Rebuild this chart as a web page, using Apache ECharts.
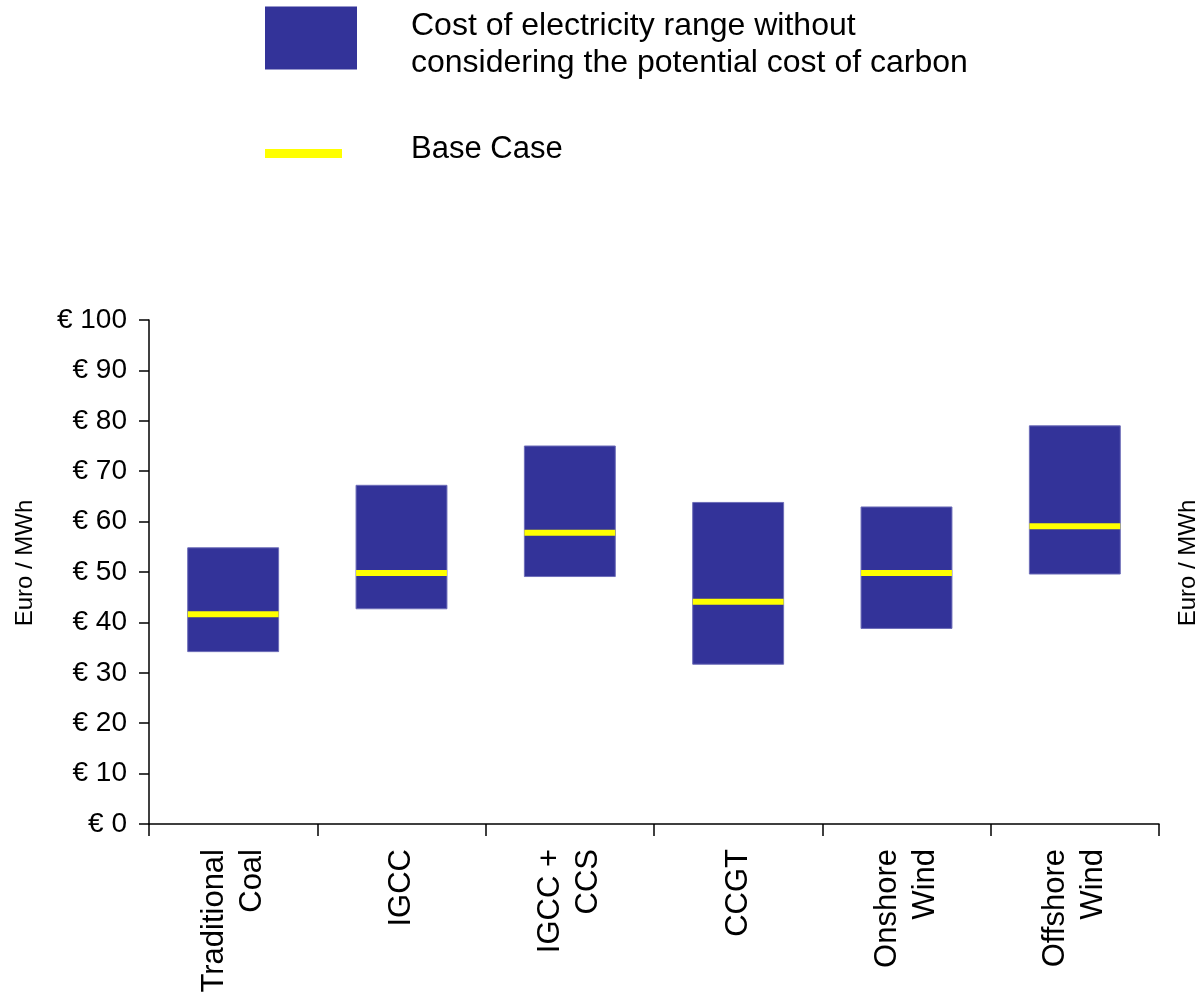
<!DOCTYPE html>
<html>
<head>
<meta charset="utf-8">
<title>Cost of electricity by technology</title>
<script src="https://cdn.jsdelivr.net/npm/echarts@6/dist/echarts.min.js"></script>
<style>
  html, body { margin: 0; padding: 0; background: #ffffff; }
  #chart { width: 1201px; height: 998px; }
</style>
</head>
<body>
<div id="chart"></div>
<script>
// Technologies along the x axis
const categories = ['Traditional\nCoal', 'IGCC', 'IGCC +\nCCS', 'CCGT', 'Onshore\nWind', 'Offshore\nWind'];
// Cost range, euro per MWh
const rangeLow  = [34.2, 42.7, 49.1, 31.7, 38.8, 49.6];
const rangeHigh = [54.8, 67.2, 75.0, 63.8, 62.9, 79.0];
// Base case cost, euro per MWh
const baseCase  = [41.6, 49.8, 57.8, 44.1, 49.8, 59.1];
// Value axis ticks
const yTicks = { min: 0, max: 100, step: 10 };

const RANGE_NAME = 'Cost of electricity range without considering the potential cost of carbon';
const BASE_NAME = 'Base Case';
const FONT = "'Liberation Sans', Arial, sans-serif";
const BLUE = '#333399';
const YELLOW = '#ffff00';
const BOX_FRACTION = 0.54;

const rangeData = categories.map((c, i) => [i, rangeLow[i], rangeHigh[i]]);
const baseData = categories.map((c, i) => [i, baseCase[i]]);

const chart = echarts.init(document.getElementById('chart'), null, { renderer: 'canvas' });

chart.setOption({
  backgroundColor: '#ffffff',
  animation: false,
  textStyle: { fontFamily: FONT, color: '#000' },
  legend: [
    {
      data: [{ name: RANGE_NAME, icon: 'rect', itemStyle: { color: BLUE } }],
      left: 265, top: -3,
      padding: 0,
      itemWidth: 92, itemHeight: 63,
      selectedMode: false,
      // a short spacer row drops the two text rows a little below the swatch centre
      formatter: () => '{s| }\n{t|Cost of electricity range without}\n{t|considering the potential cost of carbon}',
      textStyle: {
        fontFamily: FONT, fontSize: 32, color: '#000', padding: [0, 0, 0, 49],
        rich: {
          s: { fontSize: 8, lineHeight: 14 },
          t: { fontFamily: FONT, fontSize: 32, lineHeight: 37, color: '#000' }
        }
      }
    },
    {
      data: [{ name: BASE_NAME, icon: 'rect', itemStyle: { color: YELLOW } }],
      left: 265, top: 134,
      padding: 0,
      itemWidth: 77, itemHeight: 9,
      selectedMode: false,
      formatter: name => '{t|' + name + '}\n{s| }',
      textStyle: {
        fontFamily: FONT, fontSize: 31, color: '#000', padding: [0, 0, 0, 64],
        rich: {
          s: { fontSize: 6, lineHeight: 8 },
          t: { fontFamily: FONT, fontSize: 31, lineHeight: 37, color: '#000' }
        }
      }
    }
  ],
  grid: { left: 149, right: 42, top: 320, bottom: 174, containLabel: false, outerBoundsMode: 'none' },
  xAxis: {
    type: 'category',
    data: categories,
    boundaryGap: true,
    axisLine: { lineStyle: { color: '#000', width: 1.5 } },
    axisTick: { show: true, length: 12, lineStyle: { color: '#000', width: 1.5 } },
    axisLabel: {
      interval: 0, rotate: 90, margin: 25,
      fontFamily: FONT, fontSize: 31, lineHeight: 38, color: '#000'
    },
    splitLine: { show: false }
  },
  yAxis: [
    {
      type: 'value',
      min: yTicks.min, max: yTicks.max, interval: yTicks.step,
      name: 'Euro / MWh',
      nameLocation: 'middle',
      nameRotate: 90,
      nameGap: 112,
      nameTextStyle: { fontFamily: FONT, fontSize: 24, color: '#000', padding: [0, 0, 0, 18] },
      axisLine: { show: true, lineStyle: { color: '#000', width: 1.5 } },
      axisTick: { show: true, length: 10, lineStyle: { color: '#000', width: 1.5 } },
      axisLabel: {
        margin: 22, fontFamily: FONT, fontSize: 28, color: '#000',
        formatter: v => '€ ' + v
      },
      splitLine: { show: false }
    },
    {
      type: 'value',
      position: 'right',
      min: yTicks.min, max: yTicks.max, interval: yTicks.step,
      name: 'Euro / MWh',
      nameLocation: 'middle',
      nameRotate: 90,
      nameGap: 17,
      nameTextStyle: { fontFamily: FONT, fontSize: 24, color: '#000', padding: [0, 0, 0, 18] },
      axisLine: { show: false },
      axisTick: { show: false },
      axisLabel: { show: false },
      splitLine: { show: false }
    }
  ],
  series: [
    {
      name: RANGE_NAME,
      type: 'custom',
      itemStyle: { color: BLUE },
      data: rangeData,
      encode: { x: 0, y: [1, 2] },
      renderItem: (params, api) => {
        const i = api.value(0);
        const lo = api.coord([i, api.value(1)]);
        const hi = api.coord([i, api.value(2)]);
        const w = api.size([1, 0])[0] * BOX_FRACTION;
        return {
          type: 'rect',
          shape: { x: lo[0] - w / 2, y: hi[1], width: w, height: lo[1] - hi[1] },
          style: { fill: BLUE, stroke: '#6d6db8', lineWidth: 1 }
        };
      }
    },
    {
      name: BASE_NAME,
      type: 'custom',
      itemStyle: { color: YELLOW },
      data: baseData,
      encode: { x: 0, y: 1 },
      z: 3,
      renderItem: (params, api) => {
        const i = api.value(0);
        const p = api.coord([i, api.value(1)]);
        const w = api.size([1, 0])[0] * BOX_FRACTION;
        return {
          type: 'line',
          shape: { x1: p[0] - w / 2, y1: p[1], x2: p[0] + w / 2, y2: p[1] },
          style: { stroke: YELLOW, lineWidth: 6 }
        };
      }
    }
  ]
});
</script>
</body>
</html>
